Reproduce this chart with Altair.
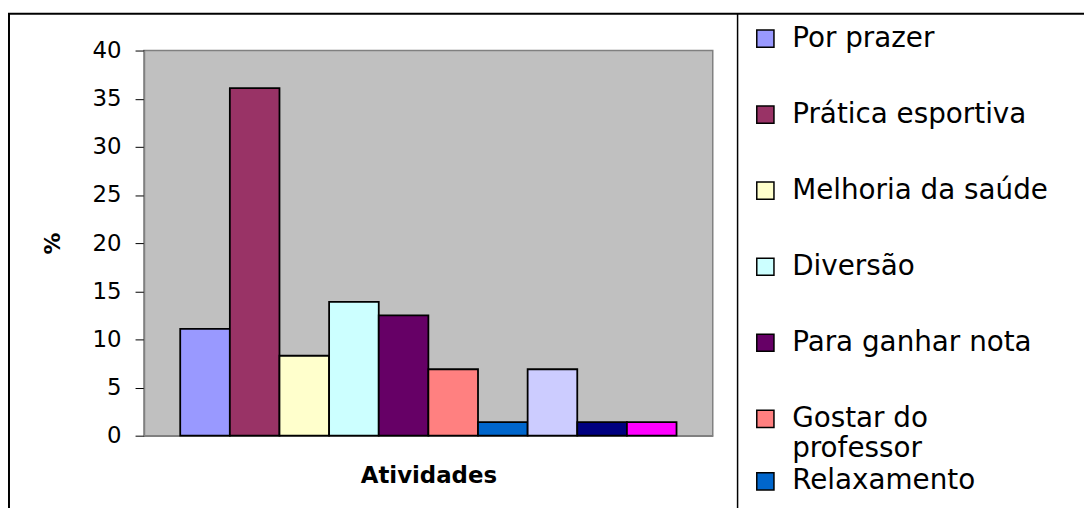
import altair as alt
import pandas as pd

atividades = ["Por prazer", "Prática esportiva", "Melhoria da saúde", "Diversão",
              "Para ganhar nota", "Gostar do professor", "Relaxamento",
              "Série 8", "Série 9", "Série 10"]
valores = [11.1, 36.1, 8.3, 13.9, 12.5, 6.9, 1.4, 6.9, 1.4, 1.4]
cores = ["#9999FF", "#993366", "#FFFFCC", "#CCFFFF", "#660066",
         "#FF8080", "#0066CC", "#CCCCFF", "#000080", "#FF00FF"]
y_ticks = [0, 5, 10, 15, 20, 25, 30, 35, 40]
legenda_visivel = atividades[:6]
legenda_extra = [atividades[6]]

df = pd.DataFrame({"Atividade": atividades, "pct": valores})

FONT = "DejaVu Sans"

x_enc = alt.X("Atividade:N", sort=atividades,
              scale=alt.Scale(paddingInner=0, paddingOuter=0.73),
              axis=alt.Axis(title="Atividades", labels=False, ticks=False,
                            domainColor="#808080", domainWidth=1.5,
                            titleFont=FONT, titleFontWeight="bold", titleFontSize=23,
                            titleColor="black", titleX=286.5, titleY=40,
                            titleBaseline="middle", titleAlign="center"))
y_enc = alt.Y("pct:Q", scale=alt.Scale(domain=[0, 40], nice=False),
              axis=alt.Axis(title="%", values=y_ticks, tickSize=9, tickColor="black",
                            tickWidth=1, domainColor="#808080", domainWidth=1.5,
                            grid=False, labelFont=FONT, labelFontSize=23,
                            labelColor="black", labelPadding=14,
                            titleFont=FONT, titleFontWeight="bold", titleFontSize=22,
                            titleColor="black", titleAngle=270, titleX=-92, titleY=194,
                            titleBaseline="middle", titleAlign="center"))

legend_common = dict(
    title=None, orient="none", padding=0,
    symbolType="square", symbolSize=300,
    symbolStrokeColor="black", symbolStrokeWidth=1.5, symbolOpacity=1,
    labelFont=FONT, labelFontSize=28, labelColor="black",
    labelOffset=13, labelLimit=400,
)

bars = alt.Chart(df).mark_bar(stroke="black", strokeWidth=1.8, opacity=1).encode(
    x=x_enc,
    y=y_enc,
    color=alt.Color("Atividade:N", sort=atividades,
                    scale=alt.Scale(domain=atividades, range=cores),
                    legend=alt.Legend(
                        values=legenda_visivel, legendX=612, legendY=-26,
                        rowPadding=48.6,
                        labelExpr="datum.label == 'Gostar do professor' ? ['Gostar do', 'professor'] : datum.label",
                        **legend_common)),
)

extra = alt.Chart(df).transform_filter(
    alt.FieldOneOfPredicate(field="Atividade", oneOf=legenda_extra)
).transform_calculate(
    legenda2="datum.Atividade"
).mark_bar(opacity=0).encode(
    x=alt.X("Atividade:N", sort=atividades),
    y=alt.Y("pct:Q"),
    fill=alt.Fill("legenda2:N",
                  scale=alt.Scale(domain=legenda_extra, range=[cores[6]]),
                  legend=alt.Legend(legendX=612, legendY=420, **legend_common)),
)

one = pd.DataFrame({"k": [0]})
left_line = alt.Chart(one).mark_rule(color="black", strokeWidth=2).encode(
    x=alt.value(-136), y=alt.value(-37), y2=alt.value(465))
top_line = alt.Chart(one).mark_rule(color="black", strokeWidth=2).encode(
    x=alt.value(-137), x2=alt.value(950), y=alt.value(-37))
sep_line = alt.Chart(one).mark_rule(color="black", strokeWidth=1.5).encode(
    x=alt.value(598), y=alt.value(-37), y2=alt.value(465))

chart = alt.layer(bars, extra, left_line, top_line, sep_line).resolve_legend(
    color="independent", fill="independent"
).properties(
    width=573, height=388,
    autosize=alt.AutoSizeParams(type="none"),
    padding={"left": 137, "top": 41, "right": 374, "bottom": 71},
    background="white",
).configure_view(fill="#C0C0C0", stroke="#808080", strokeWidth=1.5)

chart.save("out.html", embed_options={"renderer": "svg", "actions": False})
